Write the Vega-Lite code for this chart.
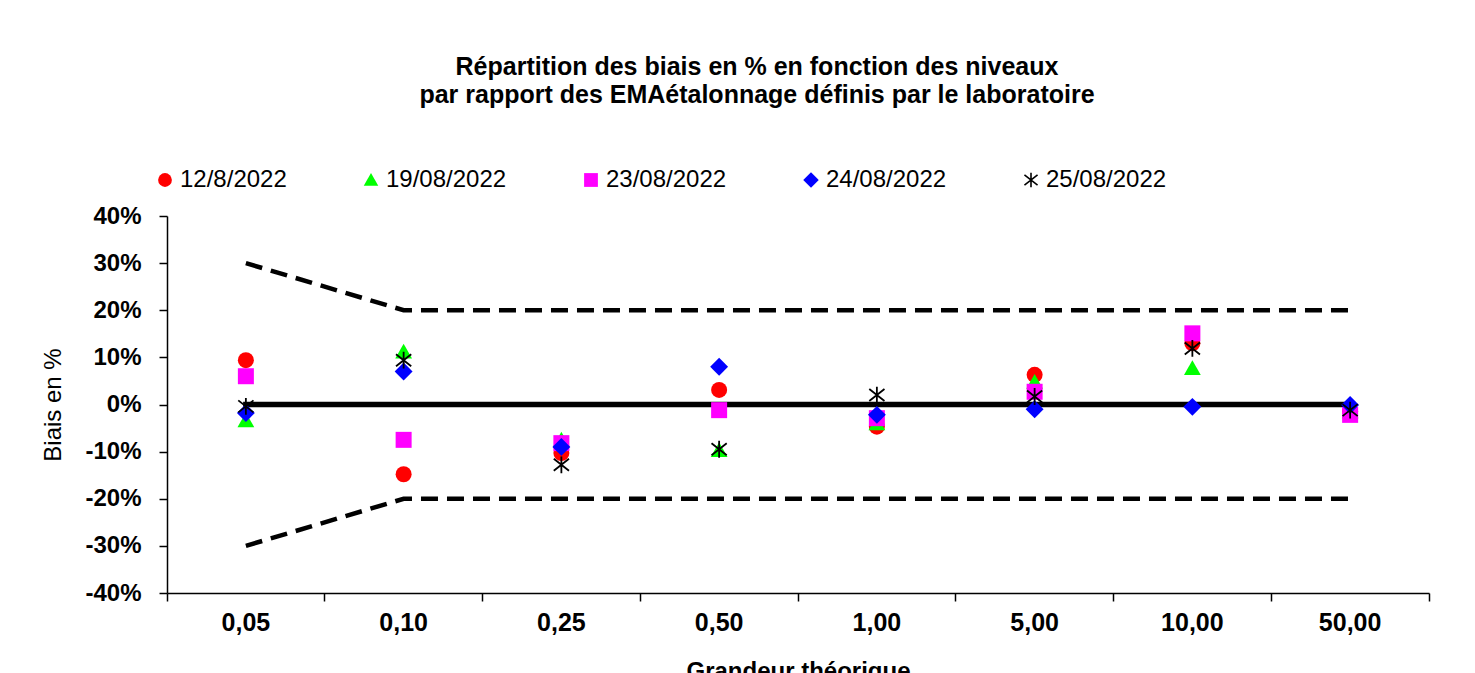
{
  "$schema": "https://vega.github.io/schema/vega-lite/v6.json",
  "autosize": "none",
  "width": 1262,
  "height": 377,
  "padding": {"left": 167, "top": 216, "right": 46, "bottom": 80},
  "background": "white",
  "title": {
    "text": ["Répartition des biais en % en fonction des niveaux", "par rapport des EMAétalonnage définis par le laboratoire"],
    "font": "Liberation Sans",
    "fontSize": 25,
    "fontWeight": "bold",
    "color": "black",
    "lineHeight": 28,
    "anchor": "middle",
    "dx": -41,
    "offset": 60
  },
  "datasets": {
    "limits": [
      {"grandeur": "0,05", "limite": "sup", "valeur": 0.30},
      {"grandeur": "0,10", "limite": "sup", "valeur": 0.20},
      {"grandeur": "0,25", "limite": "sup", "valeur": 0.20},
      {"grandeur": "0,50", "limite": "sup", "valeur": 0.20},
      {"grandeur": "1,00", "limite": "sup", "valeur": 0.20},
      {"grandeur": "5,00", "limite": "sup", "valeur": 0.20},
      {"grandeur": "10,00", "limite": "sup", "valeur": 0.20},
      {"grandeur": "50,00", "limite": "sup", "valeur": 0.20},
      {"grandeur": "0,05", "limite": "inf", "valeur": -0.30},
      {"grandeur": "0,10", "limite": "inf", "valeur": -0.20},
      {"grandeur": "0,25", "limite": "inf", "valeur": -0.20},
      {"grandeur": "0,50", "limite": "inf", "valeur": -0.20},
      {"grandeur": "1,00", "limite": "inf", "valeur": -0.20},
      {"grandeur": "5,00", "limite": "inf", "valeur": -0.20},
      {"grandeur": "10,00", "limite": "inf", "valeur": -0.20},
      {"grandeur": "50,00", "limite": "inf", "valeur": -0.20}
    ],
    "zero": [
      {"grandeur": "0,05", "valeur": 0},
      {"grandeur": "0,10", "valeur": 0},
      {"grandeur": "0,25", "valeur": 0},
      {"grandeur": "0,50", "valeur": 0},
      {"grandeur": "1,00", "valeur": 0},
      {"grandeur": "5,00", "valeur": 0},
      {"grandeur": "10,00", "valeur": 0},
      {"grandeur": "50,00", "valeur": 0}
    ],
    "biais": [
      {"date": "12/8/2022", "grandeur": "0,05", "biais": 0.094},
      {"date": "12/8/2022", "grandeur": "0,10", "biais": -0.148},
      {"date": "12/8/2022", "grandeur": "0,25", "biais": -0.103},
      {"date": "12/8/2022", "grandeur": "0,50", "biais": 0.031},
      {"date": "12/8/2022", "grandeur": "1,00", "biais": -0.047},
      {"date": "12/8/2022", "grandeur": "5,00", "biais": 0.063},
      {"date": "12/8/2022", "grandeur": "10,00", "biais": 0.130},
      {"date": "12/8/2022", "grandeur": "50,00", "biais": -0.015},
      {"date": "19/08/2022", "grandeur": "0,05", "biais": -0.034},
      {"date": "19/08/2022", "grandeur": "0,10", "biais": 0.112},
      {"date": "19/08/2022", "grandeur": "0,25", "biais": -0.075},
      {"date": "19/08/2022", "grandeur": "0,50", "biais": -0.097},
      {"date": "19/08/2022", "grandeur": "1,00", "biais": -0.040},
      {"date": "19/08/2022", "grandeur": "5,00", "biais": 0.048},
      {"date": "19/08/2022", "grandeur": "10,00", "biais": 0.077},
      {"date": "19/08/2022", "grandeur": "50,00", "biais": -0.015},
      {"date": "23/08/2022", "grandeur": "0,05", "biais": 0.060},
      {"date": "23/08/2022", "grandeur": "0,10", "biais": -0.075},
      {"date": "23/08/2022", "grandeur": "0,25", "biais": -0.082},
      {"date": "23/08/2022", "grandeur": "0,50", "biais": -0.012},
      {"date": "23/08/2022", "grandeur": "1,00", "biais": -0.029},
      {"date": "23/08/2022", "grandeur": "5,00", "biais": 0.027},
      {"date": "23/08/2022", "grandeur": "10,00", "biais": 0.151},
      {"date": "23/08/2022", "grandeur": "50,00", "biais": -0.022},
      {"date": "24/08/2022", "grandeur": "0,05", "biais": -0.018},
      {"date": "24/08/2022", "grandeur": "0,10", "biais": 0.070},
      {"date": "24/08/2022", "grandeur": "0,25", "biais": -0.090},
      {"date": "24/08/2022", "grandeur": "0,50", "biais": 0.080},
      {"date": "24/08/2022", "grandeur": "1,00", "biais": -0.022},
      {"date": "24/08/2022", "grandeur": "5,00", "biais": -0.010},
      {"date": "24/08/2022", "grandeur": "10,00", "biais": -0.005},
      {"date": "24/08/2022", "grandeur": "50,00", "biais": -0.001},
      {"date": "25/08/2022", "grandeur": "0,05", "biais": -0.004},
      {"date": "25/08/2022", "grandeur": "0,10", "biais": 0.094},
      {"date": "25/08/2022", "grandeur": "0,25", "biais": -0.128},
      {"date": "25/08/2022", "grandeur": "0,50", "biais": -0.095},
      {"date": "25/08/2022", "grandeur": "1,00", "biais": 0.020},
      {"date": "25/08/2022", "grandeur": "5,00", "biais": 0.017},
      {"date": "25/08/2022", "grandeur": "10,00", "biais": 0.119},
      {"date": "25/08/2022", "grandeur": "50,00", "biais": -0.012}
    ]
  },
  "encoding": {
    "x": {
      "field": "grandeur",
      "type": "ordinal",
      "sort": ["0,05", "0,10", "0,25", "0,50", "1,00", "5,00", "10,00", "50,00"],
      "scale": {"type": "band", "paddingInner": 0, "paddingOuter": 0, "domain": ["0,05", "0,10", "0,25", "0,50", "1,00", "5,00", "10,00", "50,00"]},
      "axis": {
        "title": "Grandeur théorique",
        "labelAngle": 0,
        "bandPosition": 1,
        "tickExtra": true,
        "tickSize": 8,
        "labelPadding": 9,
        "titlePadding": 24
      }
    },
    "y": {
      "field": "valeur",
      "type": "quantitative",
      "scale": {"domain": [-0.4, 0.4], "nice": false, "zero": false},
      "axis": {
        "title": "Biais en %",
        "values": [-0.4, -0.3, -0.2, -0.1, 0, 0.1, 0.2, 0.3, 0.4],
        "labelExpr": "(datum.value < -0.001 ? '-' : '') + format(abs(datum.value), '.0%')",
        "tickSize": 8,
        "labelPadding": 18,
        "titlePadding": 19,
        "titleFontWeight": "normal",
        "grid": false
      }
    }
  },
  "layer": [
    {
      "data": {"name": "zero"},
      "mark": {"type": "line", "color": "black", "strokeWidth": 5.5, "strokeCap": "square"},
      "encoding": {}
    },
    {
      "data": {"name": "limits"},
      "mark": {"type": "line", "color": "black", "strokeWidth": 4.5, "strokeDash": [17, 9], "strokeCap": "butt"},
      "encoding": {"detail": {"field": "limite"}}
    },
    {
      "data": {"name": "biais"},
      "mark": {"type": "point", "filled": true, "opacity": 1, "size": 256, "strokeWidth": 1.8},
      "encoding": {
        "y": {"field": "biais", "type": "quantitative"},
        "color": {
          "field": "date",
          "type": "nominal",
          "sort": ["12/8/2022", "19/08/2022", "23/08/2022", "24/08/2022", "25/08/2022"],
          "scale": {"domain": ["12/8/2022", "19/08/2022", "23/08/2022", "24/08/2022", "25/08/2022"], "range": ["#ff0000", "#00ff00", "#ff00ff", "#0000ff", "black"]},
          "legend": {"title": null}
        },
        "shape": {
          "field": "date",
          "type": "nominal",
          "sort": ["12/8/2022", "19/08/2022", "23/08/2022", "24/08/2022", "25/08/2022"],
          "scale": {"domain": ["12/8/2022", "19/08/2022", "23/08/2022", "24/08/2022", "25/08/2022"], "range": ["circle", "M0,-1L1.05,0.85L-1.05,0.85Z", "square", "M-1.12,0L0,-1.12L1.12,0L0,1.12Z", "M-0.95,-0.75L0.95,0.75M-0.95,0.75L0.95,-0.75M0,-1.05L0,1.05"]},
          "legend": {"title": null}
        },
        "stroke": {
          "field": "date",
          "type": "nominal",
          "sort": ["12/8/2022", "19/08/2022", "23/08/2022", "24/08/2022", "25/08/2022"],
          "scale": {"domain": ["12/8/2022", "19/08/2022", "23/08/2022", "24/08/2022", "25/08/2022"], "range": ["transparent", "transparent", "transparent", "transparent", "black"]},
          "legend": {"title": null}
        }
      }
    }
  ],
  "config": {
    "view": {"stroke": null},
    "font": "Liberation Sans",
    "axis": {
      "domainColor": "black",
      "domainWidth": 1.5,
      "tickColor": "black",
      "tickWidth": 1.5,
      "labelColor": "black",
      "labelFont": "Liberation Sans",
      "labelFontWeight": "bold",
      "labelFontSize": 24,
      "titleColor": "black",
      "titleFont": "Liberation Sans",
      "titleFontSize": 24,
      "titleFontWeight": "bold",
      "grid": false
    },
    "axisX": {"labelFontSize": 25},
    "legend": {
      "orient": "none",
      "legendX": -14,
      "legendY": -48,
      "direction": "horizontal",
      "columns": 5,
      "columnPadding": 72,
      "labelFont": "Liberation Sans",
      "labelFontSize": 24,
      "labelColor": "black",
      "labelOffset": 3,
      "symbolSize": 190,
      "symbolStrokeWidth": 1.6,
      "gridAlign": "none",
      "labelLimit": 300
    }
  }
}
